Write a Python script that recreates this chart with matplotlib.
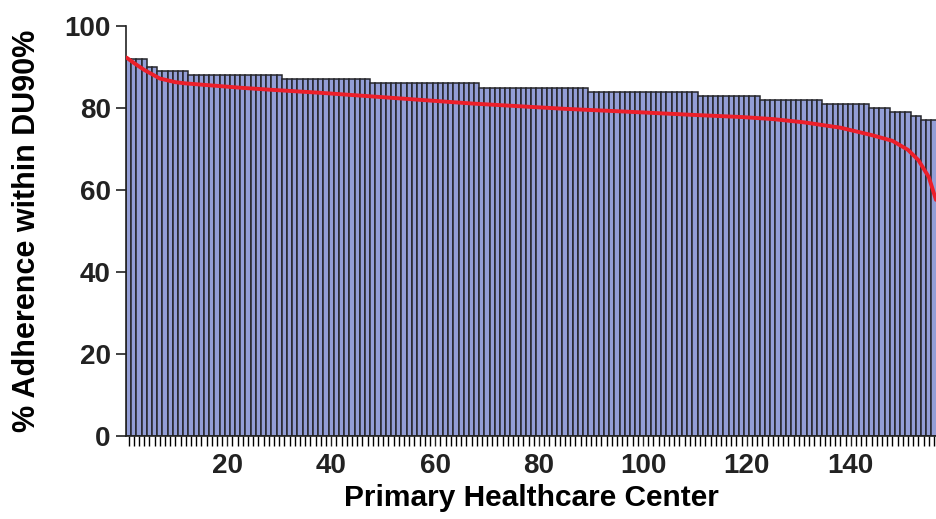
import matplotlib
matplotlib.use('Agg')
import matplotlib.pyplot as plt
import numpy as np
from matplotlib.ticker import MultipleLocator

# bar heights as (level, number of consecutive centers)
bar_levels = [92, 90, 89, 88, 87, 86, 85, 84, 83, 82, 81, 80, 79, 78, 77]
bar_counts = [4, 2, 6, 18, 17, 21, 21, 21, 12, 12, 9, 4, 4, 2, 3]

# red curve, sampled points (center position, %)
line_x = [0.6, 2, 4, 7, 10, 12, 16, 23, 29, 38, 47, 57, 67, 78, 85, 97,
          110, 119, 125, 131, 138, 144, 148, 151, 153, 155, 156.4]
line_y = [92.3, 91.0, 89.3, 87.2, 86.3, 86.0, 85.6, 84.9, 84.4, 83.7, 82.9,
          82.0, 81.1, 80.3, 79.8, 79.1, 78.3, 77.8, 77.3, 76.5, 75.2, 73.4,
          72.0, 69.8, 67.3, 63.2, 57.6]

x_ticks = [20, 40, 60, 80, 100, 120, 140]
y_ticks = [0, 20, 40, 60, 80, 100]

heights = np.repeat(bar_levels, bar_counts)
centers = np.arange(1, len(heights) + 1)

plt.rcParams['font.family'] = ['Liberation Sans', 'DejaVu Sans']
plt.rcParams['font.weight'] = 'bold'

fig = plt.figure(figsize=(9.36, 5.19), dpi=100)
ax = fig.add_axes([0.1346, 0.1599, 0.8654, 0.7900])

ax.bar(centers, heights, width=1.0, color='#939ed6', edgecolor='#26262b',
       linewidth=1.1, zorder=2)
ax.plot(line_x, line_y, color='#ec1f2a', linewidth=2.8, zorder=3,
        solid_capstyle='round')

ax.set_xlim(0.5, 156.4)
ax.set_ylim(0, 100)
ax.set_xticks(x_ticks)
ax.xaxis.set_minor_locator(MultipleLocator(1))
ax.set_yticks(y_ticks)

for side in ('top', 'right'):
    ax.spines[side].set_visible(False)
for side in ('left', 'bottom'):
    ax.spines[side].set_linewidth(1.2)
    ax.spines[side].set_color('#222222')

ax.tick_params(axis='y', length=7, width=1.2, pad=4, labelsize=20)
ax.tick_params(axis='x', which='major', length=7, width=1.0, pad=5,
               labelsize=20)
ax.tick_params(axis='x', which='minor', length=7, width=1.0)
ax.tick_params(colors='#222222')

ax.set_xlabel('Primary Healthcare Center', fontsize=21.5, fontweight='bold',
              labelpad=4)
ax.set_ylabel('% Adherence within DU90%', fontsize=22, fontweight='bold',
              labelpad=16)

fig.savefig('out.png', dpi=100)
